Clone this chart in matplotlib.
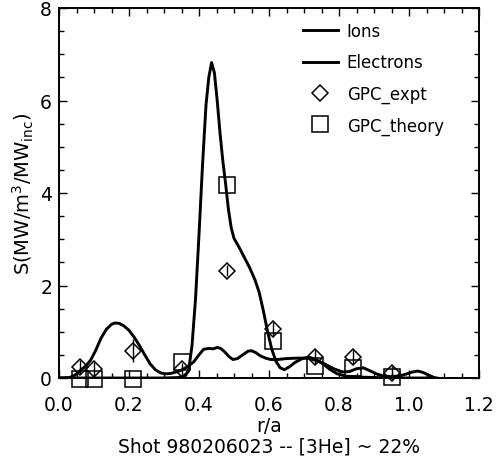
import matplotlib
matplotlib.use("Agg")
import matplotlib.pyplot as plt
from matplotlib.lines import Line2D
from matplotlib.ticker import MultipleLocator, FormatStrFormatter

# Power deposition profiles (r/a, S)
ions_r = [0.00, 0.30, 0.34, 0.36, 0.37, 0.38, 0.39, 0.40, 0.41, 0.42, 0.428,
          0.436, 0.444, 0.452, 0.46, 0.468, 0.476, 0.484, 0.492, 0.50, 0.515,
          0.53, 0.545, 0.56, 0.572, 0.584, 0.596, 0.608, 0.62, 0.632, 0.644,
          0.658, 0.675, 0.695, 0.715, 0.735, 0.755, 0.775, 0.795, 0.82, 0.86,
          0.90, 1.00, 1.08]
ions_s = [0.0, 0.0, 0.01, 0.04, 0.15, 0.7, 1.7, 3.1, 4.6, 5.9, 6.5,
          6.82, 6.6, 6.0, 5.3, 4.7, 4.2, 3.65, 3.25, 3.02, 2.82,
          2.6, 2.38, 2.12, 1.85, 1.45, 1.0, 0.62, 0.36, 0.22, 0.18,
          0.24, 0.34, 0.42, 0.45, 0.40, 0.30, 0.18, 0.09, 0.04, 0.02,
          0.01, 0.0, 0.0]

elec_r = [0.00, 0.03, 0.045, 0.06, 0.075, 0.09, 0.105, 0.12, 0.135, 0.15,
          0.16, 0.172, 0.185, 0.20, 0.215, 0.23, 0.245, 0.26, 0.275, 0.29,
          0.305, 0.32, 0.34, 0.355, 0.37, 0.385, 0.40, 0.413, 0.428, 0.44,
          0.452, 0.462, 0.474, 0.486, 0.497, 0.51, 0.525, 0.54, 0.55, 0.562,
          0.575, 0.59, 0.605, 0.625, 0.65, 0.68, 0.71, 0.735, 0.76, 0.785,
          0.81, 0.83, 0.85, 0.87, 0.89, 0.91, 0.93, 0.95, 0.97, 0.99,
          1.01, 1.025, 1.04, 1.06, 1.075]
elec_s = [0.0, 0.01, 0.06, 0.16, 0.25, 0.38, 0.6, 0.86, 1.05, 1.16,
          1.19, 1.18, 1.13, 1.03, 0.88, 0.7, 0.5, 0.31, 0.18, 0.11,
          0.09, 0.1, 0.14, 0.19, 0.26, 0.35, 0.5, 0.62, 0.64, 0.63,
          0.66, 0.64, 0.56, 0.46, 0.4, 0.42, 0.5, 0.58, 0.59, 0.55,
          0.48, 0.43, 0.4, 0.4, 0.42, 0.43, 0.43, 0.38, 0.3, 0.2,
          0.13, 0.14, 0.2, 0.22, 0.15, 0.08, 0.04, 0.03, 0.04, 0.08,
          0.13, 0.15, 0.12, 0.05, 0.0]

# GPC measurements and theory
expt_r = [0.06, 0.10, 0.21, 0.35, 0.48, 0.61, 0.73, 0.84, 0.95]
expt_s = [0.23, 0.19, 0.59, 0.20, 2.32, 1.06, 0.45, 0.45, 0.10]
expt_err = [0.15, 0.15, 0.25, 0.12, 0.12, 0.15, 0.15, 0.15, 0.15]

theory_r = [0.06, 0.10, 0.21, 0.35, 0.48, 0.61, 0.73, 0.84, 0.95]
theory_s = [-0.03, -0.03, -0.03, 0.35, 4.18, 0.81, 0.25, 0.22, 0.02]

x_ticks = [0.0, 0.2, 0.4, 0.6, 0.8, 1.0, 1.2]
y_ticks = [0, 2, 4, 6, 8]

plt.rcParams['font.family'] = ['DejaVu Sans']

fig = plt.figure(figsize=(4.96, 4.64), dpi=100)
ax = fig.add_axes([59 / 496, 1 - 379 / 464, 420 / 496, 370 / 464])

ax.plot(ions_r, ions_s, color='black', lw=2.1)
ax.plot(elec_r, elec_s, color='black', lw=2.1)

ax.errorbar(expt_r, expt_s, yerr=expt_err, fmt='none', ecolor='black',
            elinewidth=1.0, capsize=0, clip_on=False)
ax.plot(expt_r, expt_s, linestyle='none', marker='D', markersize=8,
        markerfacecolor='none', markeredgecolor='black', markeredgewidth=1.1,
        clip_on=False)
ax.plot(theory_r, theory_s, linestyle='none', marker='s', markersize=11,
        markerfacecolor='none', markeredgecolor='black', markeredgewidth=1.1,
        clip_on=False)

ax.set_xlim(0.0, 1.2)
ax.set_ylim(0, 8)
ax.set_xticks(x_ticks)
ax.set_yticks(y_ticks)
ax.xaxis.set_major_formatter(FormatStrFormatter('%.1f'))
ax.xaxis.set_minor_locator(MultipleLocator(0.05))
ax.yaxis.set_minor_locator(MultipleLocator(0.5))
ax.tick_params(which='both', direction='in', top=True, right=True,
               labelsize=13.5, width=1.0)
ax.tick_params(which='major', length=6)
ax.tick_params(which='minor', length=3.5)
ax.tick_params(axis='x', which='major', pad=12)
ax.tick_params(axis='y', which='major', pad=5)
for sp in ax.spines.values():
    sp.set_linewidth(1.4)

ax.set_xlabel('r/a\nShot 980206023 -- [3He] ~ 22%', fontsize=13.5,
              linespacing=1.1, labelpad=2)
ax.set_ylabel(r'S(MW/m$^3$/MW$_{\rm inc}$)', fontsize=14, labelpad=3)

handles = [
    Line2D([], [], color='black', lw=2.1),
    Line2D([], [], color='black', lw=2.1),
    Line2D([], [], linestyle='none', marker='D', markersize=8,
           markerfacecolor='none', markeredgecolor='black', markeredgewidth=1.1),
    Line2D([], [], linestyle='none', marker='s', markersize=11,
           markerfacecolor='none', markeredgecolor='black', markeredgewidth=1.1),
]
labels = ['Ions', 'Electrons', 'GPC_expt', 'GPC_theory']
ax.legend(handles, labels, loc='upper left', bbox_to_anchor=(0.58, 0.962),
          frameon=False, fontsize=12, handlelength=2.1, handletextpad=0.55,
          labelspacing=0.8, borderaxespad=0, borderpad=0)

fig.savefig('out.png', dpi=100)
